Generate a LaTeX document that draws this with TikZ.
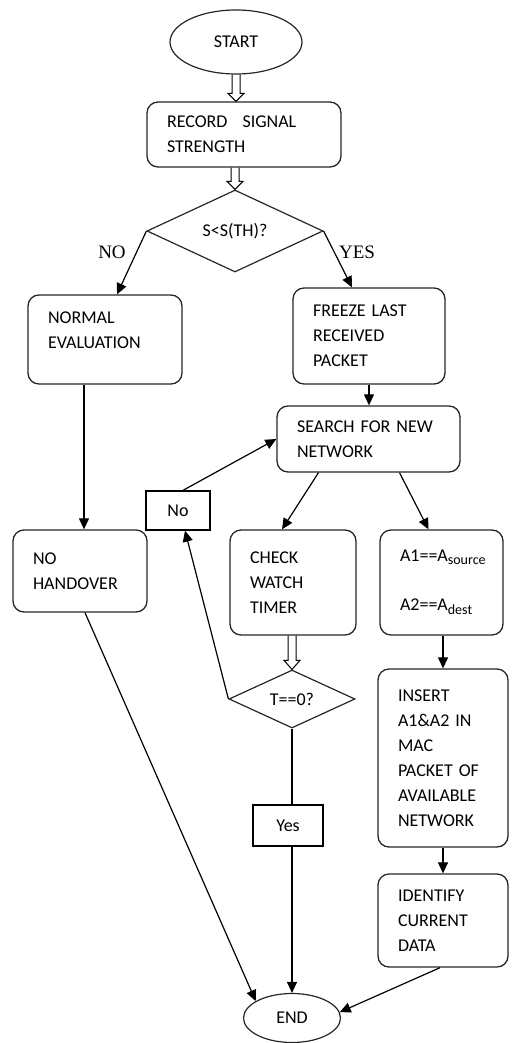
\documentclass[tikz,border=0pt]{standalone}
\usepackage{fontspec}
\setmainfont{Carlito}
\newfontfamily\serifnoyes{Liberation Serif}
\usetikzlibrary{arrows.meta,shapes.geometric,calc}
\begin{document}
\begin{tikzpicture}[x=1pt,y=-1pt,
  every node/.style={font=\fontsize{18}{25}\selectfont},
  box/.style={draw=black!85,line width=1.3pt,rounded corners=11pt,inner xsep=20pt,inner ysep=0pt,align=left},
  plainbox/.style={draw=black,line width=1.3pt,inner sep=0pt},
  term/.style={draw=black!85,ellipse,line width=1.2pt,inner sep=0pt},
  dec/.style={draw=black!85,diamond,aspect=2,line width=1.2pt,inner sep=0pt},
  arr/.style={-{Triangle[length=11pt,width=10pt]},line width=1.2pt},
  link/.style={line width=1.2pt},
  hollow/.style={line width=1pt,line join=miter},
  branch/.style={font=\serifnoyes\fontsize{19}{22}\selectfont}
]
\useasboundingbox (0,0) rectangle (513,1043);

% terminals
\node[term,minimum width=132pt,minimum height=64pt] (start) at (236,42) {START};
\node[term,minimum width=97pt,minimum height=49pt] (end) at (292,1018) {END};

% process boxes
\node[box,text width=154pt,minimum height=65pt] (rec) at (244,134.5) {RECORD\hspace{9pt} SIGNAL\\STRENGTH};
\node[box,text width=114pt,minimum height=89pt] (normal) at (105,339.5) {NORMAL\\EVALUATION\\[-6pt]\mbox{}};
\node[box,text width=112pt,minimum height=96pt] (freeze) at (369,336) {FREEZE LAST\\RECEIVED\\PACKET};
\node[box,text width=143pt,minimum height=66pt] (search) at (368.5,439) {SEARCH FOR NEW\\NETWORK};
\node[box,text width=94pt,minimum height=82pt] (nohand) at (80,571) {NO\\HANDOVER};
\node[box,text width=86pt,minimum height=105pt] (check) at (293,582.5) {CHECK\\WATCH\\TIMER};
\node[box,text width=83pt,minimum height=105pt] (a1) at (441.5,582.5) {A1==A\textsubscript{\fontsize{14}{14}\selectfont source}\\[24pt]A2==A\textsubscript{\fontsize{14}{14}\selectfont dest}};
\node[box,text width=90pt,minimum height=178pt] (insert) at (443,758) {INSERT\\A1\&A2 IN\\MAC\\PACKET OF\\AVAILABLE\\NETWORK};
\node[box,text width=90pt,minimum height=93pt] (ident) at (443,920.5) {IDENTIFY\\CURRENT\\DATA};

% decisions
\node[dec,minimum width=176pt,minimum height=82pt] (d1) at (235,231) {S<S(TH)?};
\node[dec,minimum width=126pt,minimum height=58pt] (tdia) at (292,699) {T==0?};

% small label boxes
\node[plainbox,minimum width=64pt,minimum height=39pt] (nobox) at (178,510.5) {No};
\node[plainbox,minimum width=70pt,minimum height=41pt] (yesbox) at (288,825.5) {Yes};

% branch labels
\node[branch] (nolab) at (112,252) {NO};
\node[branch] (yeslab) at (357,252) {YES};

% hollow arrows
\draw[hollow] let \p1=(start.south), \p2=(start.south |- rec.north) in
  (\x1-4pt,\y1) -- (\x1-4pt,\y2+8pt) -- (\x1-8pt,\y2+8pt) -- (\x2,\y2) -- (\x1+8pt,\y2+8pt) -- (\x1+4pt,\y2+8pt) -- (\x1+4pt,\y1);
\draw[hollow] let \p1=(d1.north |- rec.south), \p2=(d1.north) in
  (\x1-4pt,\y1) -- (\x1-4pt,\y2+8pt) -- (\x1-8pt,\y2+8pt) -- (\x2,\y2) -- (\x1+8pt,\y2+8pt) -- (\x1+4pt,\y2+8pt) -- (\x1+4pt,\y1);
\draw[hollow] let \p1=(tdia.north |- check.south), \p2=(tdia.north) in
  (\x1-4pt,\y1) -- (\x1-4pt,\y2+9pt) -- (\x1-8pt,\y2+9pt) -- (\x2,\y2) -- (\x1+8pt,\y2+9pt) -- (\x1+4pt,\y2+9pt) -- (\x1+4pt,\y1);

% connectors
\draw[arr] (d1.west) -- ([xshift=12pt]normal.north);
\draw[arr] (d1.east) -- ([xshift=-17pt]freeze.north);
\draw[arr] (freeze.south) -- (freeze.south |- search.north);
\draw[arr] ([xshift=-21pt]normal.south) -- ([xshift=-21pt]normal.south |- nohand.north);
\draw[arr] ([xshift=5pt]nohand.south) -- (end.155);
\draw[arr] ([xshift=-50pt]search.south) -- ([xshift=-11pt]check.north);
\draw[arr] ([xshift=31pt]search.south) -- ([xshift=-13pt]a1.north);
\draw[arr] (tdia.west) -- ([xshift=7pt]nobox.south);
\draw[arr] ([xshift=5pt]nobox.north) -- (search.west);
\draw[link] (tdia.south) -- (tdia.south |- yesbox.north);
\draw[arr] (tdia.south |- yesbox.south) -- (end.north);
\draw[arr] (insert.north |- a1.south) -- (insert.north);
\draw[arr] (insert.south) -- (ident.north);
\draw[arr] ([xshift=-3pt]ident.south) -- (end.7);
\end{tikzpicture}
\end{document}
